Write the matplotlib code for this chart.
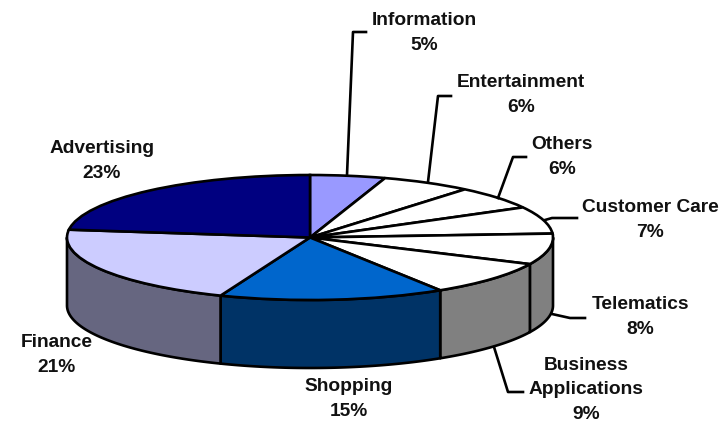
# 3D style pie of application shares
import numpy as np
import matplotlib
matplotlib.use('Agg')
import matplotlib.pyplot as plt

W, H = 722, 425

labels = ['Information', 'Entertainment', 'Others', 'Customer Care', 'Telematics',
          'Business\nApplications', 'Shopping', 'Finance', 'Advertising']
values = [5, 6, 6, 7, 8, 9, 15, 21, 23]
colors = ['#9999FF', '#FFFFFF', '#FFFFFF', '#FFFFFF', '#FFFFFF',
          '#FFFFFF', '#0066CC', '#CCCCFF', '#000080']
wall_colors = ['#4C4C80', '#808080', '#808080', '#808080', '#808080',
               '#808080', '#003366', '#666680', '#000040']

# layout in image pixels
cx, cy, rx, ry, depth = 310, 237.5, 243, 62.5, 68
label_pos = [(424, 33), (521, 95), (562, 157), (650, 220), (640, 317),
             (586, 390), (349, 399), (57, 355), (102, 161)]
leaders = [[(347, 175), (353, 32), (366, 32)],
           [(428, 182), (438, 96), (451, 96)],
           [(498, 198), (513, 157), (526, 157)],
           [(545, 220), (552, 218), (577, 218)],
           [(552, 314), (570, 318), (585, 318)],
           [(494, 347), (508, 392), (523, 392)]]

plt.rcParams['font.family'] = ['Liberation Sans', 'DejaVu Sans']
LW = 1.9


def px(x, y):
    return (x - cx) / rx, (cy - y) / ry


fig = plt.figure(figsize=(W / 100, H / 100), dpi=100)
ax = fig.add_axes([0, 0, 1, 1])

# side walls, only the front half of the ellipse shows
edges = np.cumsum([0] + values) / sum(values) * 2 * np.pi
h = depth / ry
for i in range(len(values)):
    a0, a1 = max(edges[i], np.pi / 2), min(edges[i + 1], 1.5 * np.pi)
    if a1 <= a0:
        continue
    t = np.linspace(a0, a1, 80)
    x, y = np.sin(t), np.cos(t)
    ax.fill(np.r_[x, x[::-1]], np.r_[y, y[::-1] - h], fc=wall_colors[i],
            ec='black', lw=LW, joinstyle='round', zorder=1)

ax.pie(values, colors=colors, startangle=90, counterclock=False, radius=1,
       wedgeprops=dict(ec='black', lw=LW, zorder=2))

ax.set_aspect('auto')
ax.set_xlim(px(0, 0)[0], px(W, 0)[0])
ax.set_ylim(px(0, H)[1], px(0, 0)[1])
ax.axis('off')

for line in leaders:
    pts = np.array([px(*p) for p in line])
    ax.plot(pts[:, 0], pts[:, 1], color='black', lw=LW, zorder=3)

for name, v, pos in zip(labels, values, label_pos):
    x, y = px(*pos)
    ax.text(x, y, '%s\n%d%%' % (name, v), ha='center', va='center', fontsize=13.8,
            fontweight='bold', color='#111111', linespacing=1.55, zorder=4)

fig.savefig('out.png', dpi=100)
